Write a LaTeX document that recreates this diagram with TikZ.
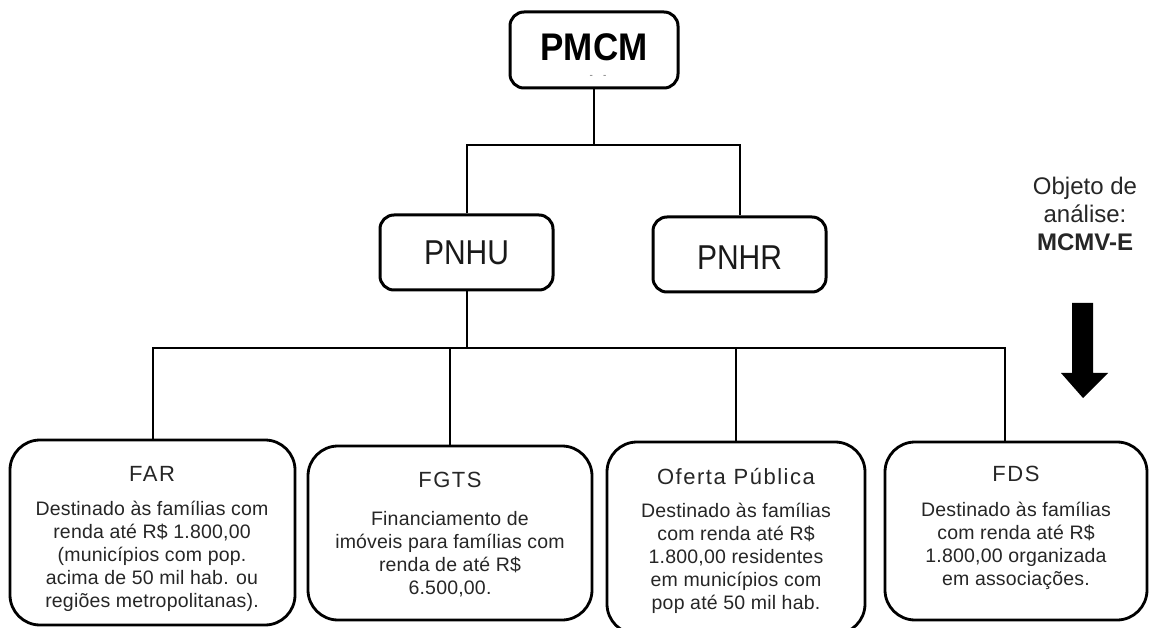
\documentclass[tikz,border=0pt]{standalone}
\usepackage{fontspec}
\setmainfont{Liberation Sans}
\newfontfamily\spaced{Liberation Sans}[LetterSpace=1]
\newfontfamily\titlesp{Liberation Sans}[LetterSpace=7]
\begin{document}
\begin{tikzpicture}[x=1pt,y=-1pt,
  box/.style={draw, line width=3pt, rounded corners=14pt, inner sep=0pt},
  bigbox/.style={draw, line width=2.8pt, rounded corners=30pt, inner sep=0pt},
  conn/.style={line width=2pt},
  ttl/.style={font=\titlesp\fontsize{22}{24}\selectfont, text=black!85, inner sep=0pt},
  body/.style={font=\spaced\fontsize{19.5}{23}\selectfont, align=center, text=black!85, inner sep=0pt},
  big/.style={font=\fontsize{30}{34}\selectfont, text=black!90, inner sep=0pt},
]
\useasboundingbox (0,0) rectangle (1149,628);
\fill[white] (0,0) rectangle (1149,628);

% top level
\node[box, minimum width=168pt, minimum height=76pt] (pmcm) at (594,50) {};
\node[font=\bfseries\fontsize{35}{40}\selectfont, inner sep=0pt] (pmcmt) at (594,47) {\scalebox{1}[1.1]{PMCM}};
\node[font=\fontsize{10}{10}\selectfont, text=black!55, inner sep=0pt] (dd) at (598,77) {-\hspace{10pt}-};

% second level
\node[box, minimum width=173pt, minimum height=75pt] (pnhu) at (466.5,252.5) {};
\node[big] (pnhut) at (466.5,253) {\scalebox{1}[1.15]{PNHU}};
\node[box, minimum width=173pt, minimum height=75pt] (pnhr) at (739.5,254.5) {};
\node[big] (pnhrt) at (739.5,258) {\scalebox{1}[1.15]{PNHR}};

% third level boxes
\node[bigbox, minimum width=285pt, minimum height=185pt] (far) at (152.5,532.5) {};
\node[bigbox, minimum width=284pt, minimum height=174pt] (fgts) at (450,533) {};
\node[bigbox, minimum width=258pt, minimum height=192pt] (oferta) at (736,538) {};
\node[bigbox, minimum width=262pt, minimum height=178pt] (fds) at (1016,531) {};

% titles
\node[ttl] (fart) at (152,474) {FAR};
\node[ttl] (fgtst) at (450,480) {FGTS};
\node[ttl] (ofertat) at (736,477) {Oferta Pública};
\node[ttl] (fdst) at (1016,474) {FDS};

% bodies
\node[body] (farb) at (152,556) {Destinado às famílias com\\renda até R\$ 1.800,00\\(municípios com pop.\\acima de 50 mil hab. ou\\regiões metropolitanas).};
\node[body] (fgtsb) at (450,554) {Financiamento de\\imóveis para famílias com\\renda de até R\$\\6.500,00.};
\node[body] (ofertab) at (736,558) {Destinado às famílias\\com renda até R\$\\1.800,00 residentes\\em municípios com\\pop até 50 mil hab.};
\node[body] (fdsb) at (1016,546) {Destinado às famílias\\com renda até R\$\\1.800,00 organizada\\em associações.};

% connectors
\coordinate (j1) at (594,145);
\coordinate (j2) at (466.5,348);
\draw[conn] (pmcm.south) -- (j1);
\draw[conn] (pnhu.north) |- (j1) -| (pnhr.north);
\draw[conn] (pnhu.south) -- (j2);
\draw[conn] (far.north) |- (j2) -| ([xshift=-11pt]fds.north);
\draw[conn] (fgts.north) -- (fgts.north |- j2);
\draw[conn] (oferta.north) -- (oferta.north |- j2);

% annotation
\node[align=center, font=\fontsize{24}{28}\selectfont, text=black!85, inner sep=0pt] (obj) at (1085,214) {Objeto de\\análise:\\\textbf{MCMV-E}};
\fill (1072,303) -- (1093,303) -- (1093,373) -- (1108,373) -- (1083,398) -- (1061,373) -- (1072,373) -- cycle;
\end{tikzpicture}
\end{document}
